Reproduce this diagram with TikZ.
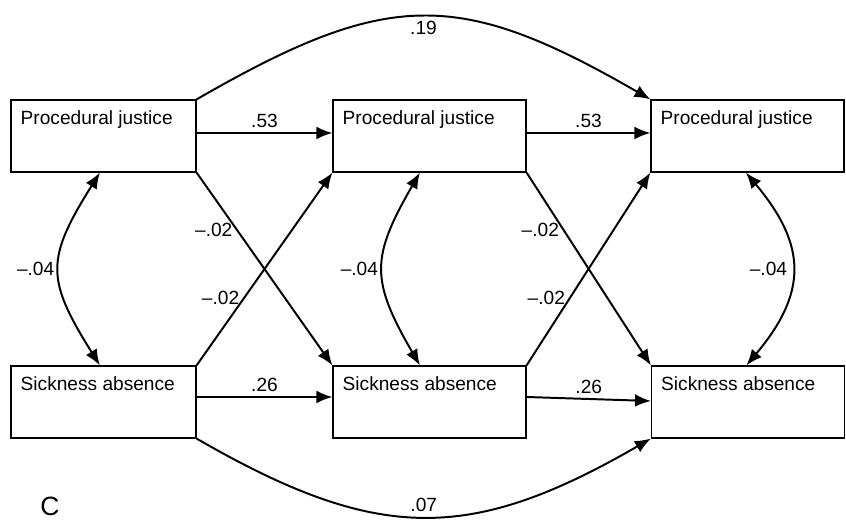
\documentclass[tikz,border=0pt]{standalone}
\usepackage{fontspec}
\setmainfont{Liberation Sans}
\usetikzlibrary{arrows.meta}

\tikzset{
	varbox/.style={draw, line width=0.8pt, minimum width=4.825cm, minimum height=1.8cm, inner sep=0pt},
	boxtext/.style={anchor=north west, inner xsep=0.25cm, inner ysep=0.27cm, font=\fontsize{13.6}{16}\selectfont},
	effect/.style={line width=1.4pt, -{Latex[length=0.4cm,width=0.32cm]}},
	covar/.style={line width=1.4pt, {Latex[length=0.4cm,width=0.32cm]}-{Latex[length=0.4cm,width=0.32cm]}},
	coef/.style={font=\fontsize{13.6}{16}\selectfont, inner sep=0.1cm}
}

\begin{document}
\begin{tikzpicture}
			\useasboundingbox (0,0) rectangle (21.15,13);

			\node[varbox, minimum width=4.625cm, label={[boxtext]north west:Procedural justice}] (pj1) at (2.5875,9.6) {};
			\node[varbox, label={[boxtext]north west:Procedural justice}] (pj2) at (10.7375,9.6) {};
			\node[varbox, label={[boxtext]north west:Procedural justice}] (pj3) at (18.6875,9.6) {};

			\node[varbox, minimum width=4.625cm, label={[boxtext]north west:Sickness absence}] (sa1) at (2.5875,2.95) {};
			\node[varbox, label={[boxtext]north west:Sickness absence}] (sa2) at (10.7375,2.95) {};
			\node[varbox, label={[boxtext]north west:Sickness absence}] (sa3) at (18.7,2.95) {};

			\node[font=\fontsize{18.8}{22}\selectfont] (panel) at (1.25,0.33) {C};

			% stability paths
			\draw[effect] ([yshift=0.075cm]pj1.east) -- node[coef, above] {.53} ([yshift=0.075cm]pj2.west);
			\draw[effect] ([yshift=0.075cm]pj2.east) -- node[coef, above] {.53} ([yshift=0.075cm]pj3.west);
			\draw[effect] ([yshift=0.125cm]sa1.east) -- node[coef, above] {.26} ([yshift=0.125cm]sa2.west);
			\draw[effect] ([yshift=0.125cm]sa2.east) -- node[coef, above] {.26} ([yshift=0.025cm]sa3.west);

			\draw[effect] (pj1.north east) to[out=30, in=150, looseness=1.25] node[coef, below] {.19} (pj3.north west);
			\draw[effect] (sa1.south east) to[out=-30, in=-150, looseness=1.18] node[coef, above] {.07} (sa3.south west);

			% cross-lagged paths
			\draw[effect] (pj1.south east) -- node[coef, pos=0.3, left] {–.02} (sa2.north west);
			\draw[effect] (sa1.north east) -- node[coef, pos=0.35, left] {–.02} (pj2.south west);
			\draw[effect] (pj2.south east) -- node[coef, pos=0.3, left] {–.02} (sa3.north west);
			\draw[effect] (sa2.north east) -- node[coef, pos=0.35, left] {–.02} (pj3.south west);

			% correlations
			\draw[covar] ([xshift=-0.09cm]pj1.south) to[out=238, in=122, looseness=1.36] node[coef, left] {–.04} ([xshift=-0.09cm]sa1.north);
			\draw[covar] ([xshift=-0.24cm]pj2.south) to[out=240, in=120, looseness=1.31] node[coef, left] {–.04} ([xshift=-0.24cm]sa2.north);
			\draw[covar] ([xshift=-0.04cm]pj3.south) to[out=-50, in=50, looseness=1.26] node[coef, left] {–.04} ([xshift=-0.04cm]sa3.north);

		\end{tikzpicture}
\end{document}
